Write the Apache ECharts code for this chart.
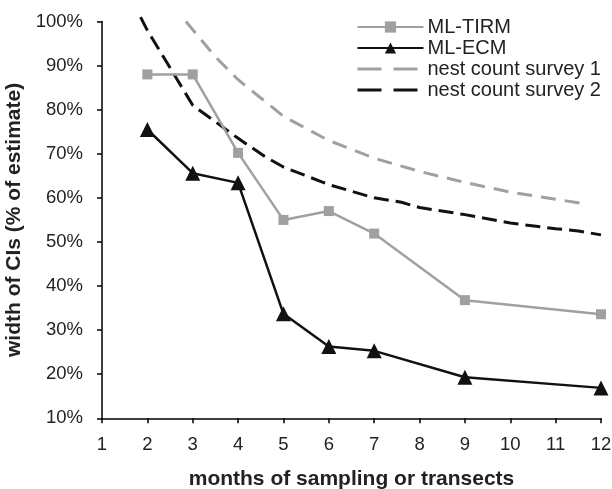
<!DOCTYPE html>
<html>
<head>
<meta charset="utf-8">
<script src="https://cdn.jsdelivr.net/npm/echarts@6/dist/echarts.min.js"></script>
<style>
  html, body { margin: 0; padding: 0; background: #fff; }
  #chart { width: 612px; height: 489px; }
</style>
</head>
<body>
<div id="chart"></div>
<script>
// months sampled
var months = [2, 3, 4, 5, 6, 7, 9, 12];
var tirmValues = [88, 88, 70.2, 55, 57, 51.9, 36.8, 33.6];
var ecmValues = [75.5, 65.6, 63.4, 33.7, 26.3, 25.3, 19.3, 16.9];

// nest count surveys (curves)
var survey1X = [2.85, 3.5, 4, 5, 6, 7, 8, 9, 10, 11, 11.6];
var survey1Y = [100, 92, 86.8, 78.5, 73, 69, 66, 63.5, 61.3, 59.7, 58.7];
var survey2X = [1.85, 2, 3, 4, 4.6, 5, 6, 7, 7.6, 8, 9, 10, 11, 11.5, 12];
var survey2Y = [101, 98, 81, 73.5, 69.3, 67, 63, 60, 59, 57.8, 56.2, 54.3, 53, 52.5, 51.6];

var seriesNames = ['ML-TIRM', 'ML-ECM', 'nest count survey 1', 'nest count survey 2'];

function pairs(xs, ys) {
  return xs.map(function (x, i) { return [x, ys[i]]; });
}

var font = 'Liberation Sans, Arial, sans-serif';
var gray = '#a0a0a0';

var option = {
  animation: false,
  backgroundColor: '#fff',
  textStyle: { fontFamily: font },
  grid: { left: 102, right: 11, top: 21.5, bottom: 70.7, outerBoundsMode: 'none', containLabel: false },
  legend: {
    orient: 'vertical',
    left: 351,
    top: 12,
    itemWidth: 66,
    itemHeight: 14,
    itemGap: 1,
    data: [
      { name: seriesNames[0] },
      { name: seriesNames[1] },
      { name: seriesNames[2], itemStyle: { opacity: 0 }, lineStyle: { type: [24, 12], width: 3 } },
      { name: seriesNames[3], itemStyle: { opacity: 0 }, lineStyle: { type: [24, 12], width: 3 } }
    ],
    textStyle: { fontSize: 20, color: '#222', fontFamily: font, padding: [0, 0, 0, -1] }
  },
  xAxis: {
    type: 'value',
    min: 1,
    max: 12,
    interval: 1,
    name: 'months of sampling or transects',
    nameLocation: 'middle',
    nameGap: 50,
    nameTextStyle: { fontSize: 21, fontWeight: 'bold', color: '#222', fontFamily: font },
    splitLine: { show: false },
    axisLine: { lineStyle: { color: '#000', width: 1.5 } },
    axisTick: { length: 5, lineStyle: { color: '#000', width: 1.5 } },
    axisLabel: { fontSize: 18.5, color: '#222', margin: 17, fontFamily: font }
  },
  yAxis: {
    type: 'value',
    min: 10,
    max: 100,
    interval: 10,
    name: 'width of CIs (% of estimate)',
    nameLocation: 'middle',
    nameGap: 71,
    nameTextStyle: { fontSize: 21, fontWeight: 'bold', color: '#222', fontFamily: font },
    splitLine: { show: false },
    axisLine: { show: true, lineStyle: { color: '#000', width: 1.5 } },
    axisTick: { show: true, length: 5, lineStyle: { color: '#000', width: 1.5 } },
    axisLabel: { fontSize: 18.5, color: '#222', margin: 19, formatter: '{value}%', fontFamily: font }
  },
  series: [
    {
      name: seriesNames[0],
      type: 'line',
      data: pairs(months, tirmValues),
      symbol: 'rect',
      symbolSize: 10,
      itemStyle: { color: gray },
      lineStyle: { color: gray, width: 2.5 },
      z: 3
    },
    {
      name: seriesNames[1],
      type: 'line',
      data: pairs(months, ecmValues),
      symbol: 'triangle',
      symbolSize: 15,
      itemStyle: { color: '#111' },
      lineStyle: { color: '#111', width: 2.5 },
      z: 4
    },
    {
      name: seriesNames[2],
      type: 'line',
      data: pairs(survey1X, survey1Y),
      showSymbol: false,
      symbol: 'none',
      clip: false,
      itemStyle: { color: gray },
      lineStyle: { color: gray, width: 3, type: [15, 9] },
      z: 2
    },
    {
      name: seriesNames[3],
      type: 'line',
      data: pairs(survey2X, survey2Y),
      showSymbol: false,
      symbol: 'none',
      clip: false,
      itemStyle: { color: '#111' },
      lineStyle: { color: '#111', width: 3, type: [15, 7] },
      z: 2
    }
  ]
};

var myChart = echarts.init(document.getElementById('chart'));
myChart.setOption(option);
</script>
</body>
</html>
